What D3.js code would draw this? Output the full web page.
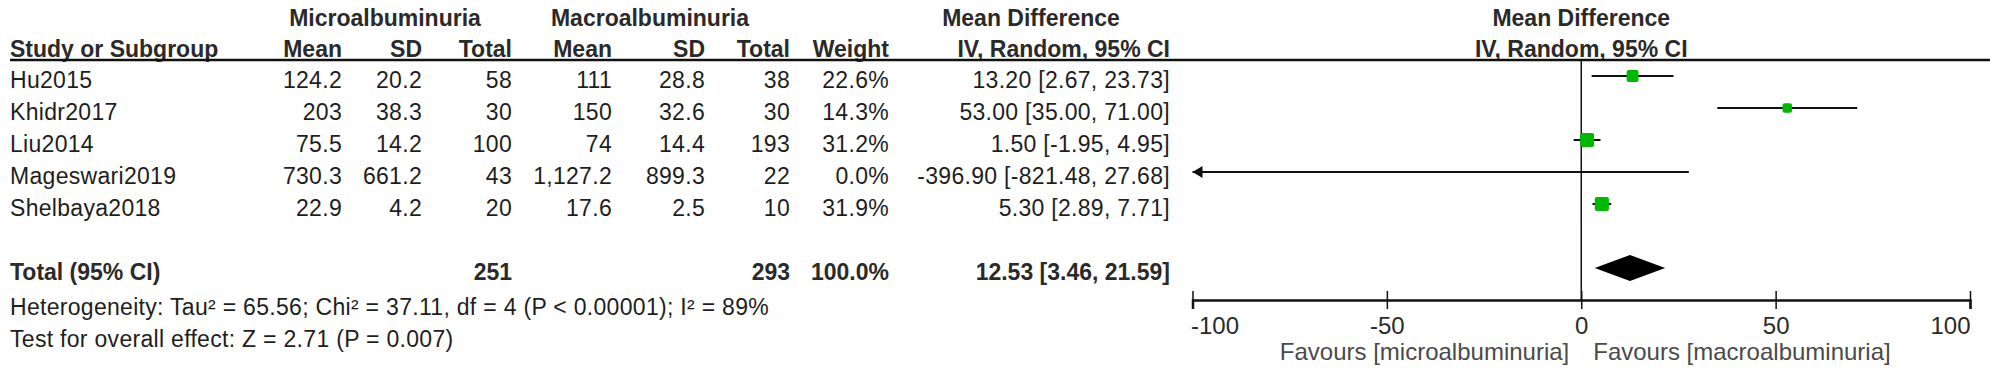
<!DOCTYPE html>
<html>
<head>
  <title>Forest plot</title>
  <style>
    body { margin: 0; background: #fff; }
    svg text { font-family: "Liberation Sans", Arial, sans-serif; fill: #1e1e1e; }
    .reg { font-size: 23px; letter-spacing: 0.3px; }
    .bold { font-size: 23px; font-weight: bold; fill: #2a2a2a; }
    .fav { font-size: 24px; fill: #4a4a4a; }
    .tick text { font-size: 24px; fill: #2a2a2a; }
  </style>
</head>
<body>
  <div id="chart"></div>
  <script src="https://d3js.org/d3.v7.min.js"></script>
  <script>
    // study data
    const studies = ["Hu2015", "Khidr2017", "Liu2014", "Mageswari2019", "Shelbaya2018"];
    const microMean = [124.2, 203, 75.5, 730.3, 22.9];
    const microSD = [20.2, 38.3, 14.2, 661.2, 4.2];
    const microN = [58, 30, 100, 43, 20];
    const macroMean = [111, 150, 74, 1127.2, 17.6];
    const macroSD = [28.8, 32.6, 14.4, 899.3, 2.5];
    const macroN = [38, 30, 193, 22, 10];
    const weights = [22.6, 14.3, 31.2, 0.0, 31.9];
    const md = [13.20, 53.00, 1.50, -396.90, 5.30];
    const ciLow = [2.67, 35.00, -1.95, -821.48, 2.89];
    const ciHigh = [23.73, 71.00, 4.95, 27.68, 7.71];

    // pooled result
    const totalMicro = 251;
    const totalMacro = 293;
    const totalWeight = 100.0;
    const pooledMD = 12.53;
    const pooledCI = [3.46, 21.59];
    const heterogeneity = "Heterogeneity: Tau² = 65.56; Chi² = 37.11, df = 4 (P < 0.00001); I² = 89%";
    const overallEffect = "Test for overall effect: Z = 2.71 (P = 0.007)";

    const axisTicks = [-100, -50, 0, 50, 100];
    const favLeft = "Favours [microalbuminuria]";
    const favRight = "Favours [macroalbuminuria]";

    const W = 2000, H = 371;
    const svg = d3.select("#chart").append("svg")
      .attr("width", W).attr("height", H)
      .attr("viewBox", [0, 0, W, H]);

    // plain hyphen for negatives, like the original
    const loc = d3.formatLocale({ decimal: ".", thousands: ",", grouping: [3], currency: ["", ""], minus: "-" });
    const fmtNum = loc.format(",");
    const fmt2 = loc.format(".2f");
    const fmtW = v => loc.format(".1f")(v) + "%";
    const fmtCI = (m, lo, hi) => `${fmt2(m)} [${fmt2(lo)}, ${fmt2(hi)}]`;

    // row positions (marks); text sits a few px lower
    const rowKeys = studies.concat(["_gap", "Total", "_het", "_test"]);
    const y = d3.scalePoint().domain(rowKeys).range([76, 76 + 32 * (rowKeys.length - 1)]);
    const txtOff = 4;

    // forest scale
    const x = d3.scaleLinear().domain([-100, 100]).range([1192.5, 1970]);
    const axisY = 300;

    // table column right edges
    const cols = { mean1: 342, sd1: 422, n1: 512, mean2: 612, sd2: 705, n2: 790, wt: 889, ci: 1170 };

    // header
    const head = svg.append("g");
    const head1 = [["Microalbuminuria", 385], ["Macroalbuminuria", 650], ["Mean Difference", 1031], ["Mean Difference", x(0)]];
    head.selectAll(".h1").data(head1).enter().append("text")
      .attr("class", "bold h1")
      .attr("x", d => d[1]).attr("y", 18).attr("dy", "0.35em")
      .attr("text-anchor", "middle").text(d => d[0]);

    const head2 = [
      ["Study or Subgroup", 10, "start"], ["Mean", cols.mean1, "end"], ["SD", cols.sd1, "end"],
      ["Total", cols.n1, "end"], ["Mean", cols.mean2, "end"], ["SD", cols.sd2, "end"],
      ["Total", cols.n2, "end"], ["Weight", cols.wt, "end"], ["IV, Random, 95% CI", cols.ci, "end"],
      ["IV, Random, 95% CI", x(0), "middle"]
    ];
    head.selectAll(".h2").data(head2).enter().append("text")
      .attr("class", "bold h2")
      .attr("x", d => d[1]).attr("y", 49).attr("dy", "0.35em")
      .attr("text-anchor", d => d[2]).text(d => d[0]);

    head.append("line").attr("x1", 10).attr("x2", 1990).attr("y1", 60).attr("y2", 60)
      .attr("stroke", "#111").attr("stroke-width", 2.5);

    // study rows
    const rows = svg.append("g").selectAll("g").data(studies).enter().append("g")
      .attr("transform", d => `translate(0,${y(d) + txtOff})`);

    const cell = (xPos, anchor, fn) => rows.append("text")
      .attr("class", "reg").attr("x", xPos).attr("dy", "0.35em")
      .attr("text-anchor", anchor).text((d, i) => fn(i));

    cell(10, "start", i => studies[i]);
    cell(cols.mean1, "end", i => fmtNum(microMean[i]));
    cell(cols.sd1, "end", i => fmtNum(microSD[i]));
    cell(cols.n1, "end", i => microN[i]);
    cell(cols.mean2, "end", i => fmtNum(macroMean[i]));
    cell(cols.sd2, "end", i => fmtNum(macroSD[i]));
    cell(cols.n2, "end", i => macroN[i]);
    cell(cols.wt, "end", i => fmtW(weights[i]));
    cell(cols.ci, "end", i => fmtCI(md[i], ciLow[i], ciHigh[i]));

    // total row
    const tY = y("Total");
    const tot = [
      ["Total (95% CI)", 10, "start"], [totalMicro, cols.n1, "end"], [totalMacro, cols.n2, "end"],
      [fmtW(totalWeight), cols.wt, "end"], [fmtCI(pooledMD, pooledCI[0], pooledCI[1]), cols.ci, "end"]
    ];
    svg.append("g").selectAll("text").data(tot).enter().append("text")
      .attr("class", "bold").attr("x", d => d[1]).attr("y", tY + txtOff).attr("dy", "0.35em")
      .attr("text-anchor", d => d[2]).text(d => d[0]);

    svg.append("text").attr("class", "reg").attr("x", 10).attr("y", y("_het") + 7).attr("dy", "0.35em")
      .text(heterogeneity);
    svg.append("text").attr("class", "reg").attr("x", 10).attr("y", y("_test") + 7).attr("dy", "0.35em")
      .text(overallEffect);

    // forest plot
    const plot = svg.append("g");
    plot.append("line").attr("x1", x(0)).attr("x2", x(0)).attr("y1", 60).attr("y2", axisY)
      .attr("stroke", "#111").attr("stroke-width", 1.5);

    const [xMin, xMax] = x.domain();
    const ci = plot.selectAll(".ci").data(studies).enter().append("g")
      .attr("transform", d => `translate(0,${y(d)})`);
    ci.append("line")
      .attr("x1", (d, i) => x(Math.max(ciLow[i], xMin)))
      .attr("x2", (d, i) => x(Math.min(ciHigh[i], xMax)))
      .attr("stroke", "#111").attr("stroke-width", 2);
    // arrow where CI runs off the scale
    ci.filter((d, i) => ciLow[i] < xMin).append("path")
      .attr("d", `M${x(xMin)},0 l10,-6 l0,12 Z`).attr("fill", "#111");
    ci.filter((d, i) => ciHigh[i] > xMax).append("path")
      .attr("d", `M${x(xMax)},0 l-10,-6 l0,12 Z`).attr("fill", "#111");

    const boxSize = d3.scaleSqrt().domain([0, 100]).range([0, 25]);
    const idx = d => studies.indexOf(d);
    ci.filter((d, i) => weights[i] > 0 && md[i] >= xMin && md[i] <= xMax).append("rect")
      .attr("x", d => x(md[idx(d)]) - boxSize(weights[idx(d)]) / 2)
      .attr("y", d => -boxSize(weights[idx(d)]) / 2)
      .attr("width", d => boxSize(weights[idx(d)]))
      .attr("height", d => boxSize(weights[idx(d)]))
      .attr("rx", 2)
      .attr("fill", "#00b900");

    // pooled diamond
    plot.append("path")
      .attr("d", `M${x(pooledCI[0])},${tY} L${x(pooledMD)},${tY - 13} L${x(pooledCI[1])},${tY} L${x(pooledMD)},${tY + 13} Z`)
      .attr("fill", "#000");

    // axis
    const axis = plot.append("g").attr("transform", `translate(0,${axisY})`)
      .call(d3.axisBottom(x).tickValues(axisTicks).tickFormat(d => String(d))
        .tickSizeOuter(0).tickSize(9).tickPadding(8));
    axis.select(".domain").attr("stroke", "#111").attr("stroke-width", 2.5);
    axis.selectAll(".tick line").attr("y1", -9).attr("y2", 9).attr("stroke", "#111").attr("stroke-width", 1.5);
    axis.selectAll(".tick text")
      .attr("font-family", null).attr("font-size", null)
      .attr("text-anchor", d => d === xMin ? "start" : d === xMax ? "end" : "middle")
      .attr("dx", d => d === xMin ? -2 : 0);

    plot.append("text").attr("class", "fav").attr("x", x(0) - 12).attr("y", 352).attr("dy", "0.35em")
      .attr("text-anchor", "end").text(favLeft);
    plot.append("text").attr("class", "fav").attr("x", x(0) + 12).attr("y", 352).attr("dy", "0.35em")
      .attr("text-anchor", "start").text(favRight);
  </script>
</body>
</html>
